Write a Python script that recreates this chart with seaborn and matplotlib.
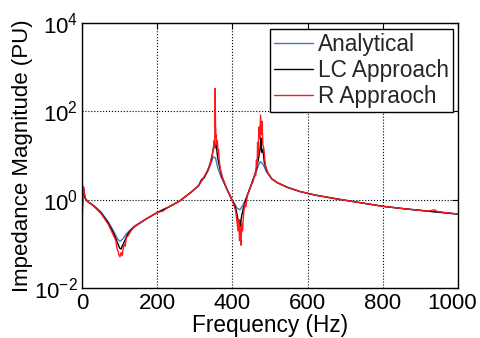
import numpy as np
import pandas as pd
import matplotlib
matplotlib.use('Agg')
import matplotlib.pyplot as plt
import matplotlib.transforms as mtransforms
import seaborn as sns
from matplotlib.ticker import NullLocator

# values (frequency in Hz, magnitude in PU)
freq_analytical = [0, 3, 8, 15, 30, 50, 70, 85, 95, 101, 108, 120, 140, 170, 200, 230, 260, 290,
                   310, 325, 335, 343, 349, 355, 362, 370, 385, 400, 412, 420, 428, 440, 452, 462,
                   470, 475, 482, 492, 505, 520, 545, 580, 620, 680, 740, 800, 860, 920, 1000]
mag_analytical = [0.32, 1.9, 1.12, 0.93, 0.76, 0.54, 0.32, 0.19, 0.13, 0.117, 0.13, 0.18, 0.26, 0.37,
                  0.52, 0.69, 0.95, 1.48, 2.1, 3.2, 4.5, 6.6, 9.5, 8.9, 5.0, 3.3, 1.78, 1.0, 0.66,
                  0.6, 0.76, 1.26, 2.4, 4.0, 6.3, 7.4, 6.3, 4.2, 3.0, 2.45, 1.95, 1.55, 1.29, 1.05,
                  0.87, 0.72, 0.63, 0.56, 0.48]

freq_lc = [0, 2, 4, 8, 15, 30, 50, 70, 85, 95, 100, 104, 108, 114, 120, 130, 140, 170, 200, 230,
           260, 290, 310, 318, 325, 335, 343, 348, 352, 354, 357, 361, 366, 372, 385, 400, 408, 413,
           416, 419, 421, 424, 428, 434, 440, 450, 458, 465, 470, 474, 476, 478, 481, 485, 492,
           505, 520, 545, 580, 620, 680, 740, 800, 860, 920, 1000]
mag_lc = [0.3, 1.6, 1.9, 1.1, 0.92, 0.75, 0.52, 0.3, 0.17, 0.105, 0.082, 0.078, 0.095, 0.12, 0.16,
          0.21, 0.25, 0.37, 0.52, 0.69, 0.95, 1.5, 2.1, 2.9, 3.2, 4.8, 7.5, 12, 22, 15, 18, 9, 5.5,
          3.4, 1.8, 0.95, 0.7, 0.45, 0.3, 0.35, 0.25, 0.4, 0.6, 0.9, 1.3, 2.2, 3.4, 5.5, 9, 15, 25,
          12, 14, 7, 4.4, 3.0, 2.45, 1.95, 1.55, 1.29, 1.05, 0.87, 0.72, 0.63, 0.56, 0.48]

freq_r = [0, 2, 4, 6, 9, 15, 30, 50, 70, 85, 90, 93, 96, 98, 101, 104, 107, 110, 112, 115, 118,
          124, 130, 140, 170, 200, 215, 230, 260, 290, 310, 330, 340, 344, 346, 348, 350, 352, 353,
          354, 355, 356, 357, 358, 360, 362, 363, 365, 368, 375, 385, 400, 408, 412, 415, 417, 419,
          421, 423, 425, 427, 430, 433, 436, 440, 445, 450, 455, 460, 462, 464, 466, 467, 469, 470,
          471, 473, 475, 477, 478, 479, 481, 484, 486, 488, 495, 505, 520, 545, 580, 620, 680,
          740, 800, 860, 920, 938, 945, 1000]
mag_r = [0.2, 1.2, 2.0, 1.5, 1.1, 0.92, 0.74, 0.5, 0.28, 0.15, 0.12, 0.08, 0.07, 0.058, 0.052,
         0.065, 0.055, 0.085, 0.1, 0.09, 0.14, 0.16, 0.2, 0.25, 0.37, 0.52, 0.56, 0.69, 0.95, 1.5,
         2.1, 4.0, 6.0, 9, 10, 13, 14, 22, 15, 330, 60, 25, 30, 18, 22, 12, 14, 8, 5, 3.0, 1.8,
         0.95, 0.6, 0.35, 0.2, 0.35, 0.12, 0.25, 0.095, 0.3, 0.2, 0.5, 0.8, 0.7, 1.3, 1.6, 2.2,
         2.6, 4.0, 3.5, 8, 6, 20, 10, 30, 45, 25, 83, 30, 50, 60, 18, 14, 9, 6, 4.0, 3.0, 2.45,
         1.95, 1.55, 1.29, 1.05, 0.87, 0.72, 0.63, 0.56, 0.6, 0.55, 0.48]

labels = ['Analytical', 'LC Approach', 'R Appraoch']
colors = ['#4a6fc6', '#000000', '#ff1a1a']

df = pd.concat([
    pd.DataFrame({'freq': freq_analytical, 'mag': mag_analytical, 'method': labels[0]}),
    pd.DataFrame({'freq': freq_lc, 'mag': mag_lc, 'method': labels[1]}),
    pd.DataFrame({'freq': freq_r, 'mag': mag_r, 'method': labels[2]}),
], ignore_index=True)

sns.set_theme(style='white')
plt.rcParams['font.family'] = ['Liberation Sans', 'DejaVu Sans']
plt.rcParams['mathtext.fontset'] = 'custom'
plt.rcParams['mathtext.rm'] = 'Liberation Sans'
plt.rcParams['mathtext.it'] = 'Liberation Sans:italic'

fig = plt.figure(figsize=(4.81, 3.38), dpi=100)
ax = fig.add_axes([0.1705, 0.1465, 0.7815, 0.7855])

sns.lineplot(data=df, x='freq', y='mag', hue='method', palette=dict(zip(labels, colors)),
             estimator=None, sort=True, linewidth=1.0, ax=ax, legend=False)

ax.set_yscale('log')
ax.set_xlim(0, 1000)
ax.set_ylim(1e-2, 1e4)
ax.set_xticks([0, 200, 400, 600, 800, 1000])
ax.set_yticks([1e-2, 1e0, 1e2, 1e4])
ax.set_yticklabels(['$10^{-2}$', '$10^{0}$', '$10^{2}$', '$10^{4}$'])
ax.yaxis.set_minor_locator(NullLocator())
ax.tick_params(direction='in', top=True, right=True, length=4, width=0.8,
               labelsize=16, colors='black', pad=3)
ax.grid(True, linestyle=':', color='black', linewidth=0.8)
for s in ax.spines.values():
    s.set_color('black')
    s.set_linewidth(1.0)

# keep "1000" inside the picture, as in the reference
last = ax.get_xticklabels()[-1]
last.set_transform(last.get_transform() + mtransforms.ScaledTranslation(-4 / 72, 0, fig.dpi_scale_trans))

ax.set_xlabel('Frequency (Hz)', fontsize=16.3, color='black', labelpad=0)
ax.set_ylabel('Impedance Magnitude (PU)', fontsize=16, color='black', labelpad=1)

handles = [plt.Line2D([], [], color=c, linewidth=1.0) for c in colors]
leg = ax.legend(handles, labels, loc='upper right', bbox_to_anchor=(0.986, 0.977),
                borderaxespad=0, fontsize=16.3, handlelength=1.7, handletextpad=0.22,
                labelspacing=0.12, borderpad=0.18, fancybox=False, framealpha=1,
                edgecolor='black')
leg.get_frame().set_linewidth(1.0)

fig.savefig('out.png', dpi=100)
